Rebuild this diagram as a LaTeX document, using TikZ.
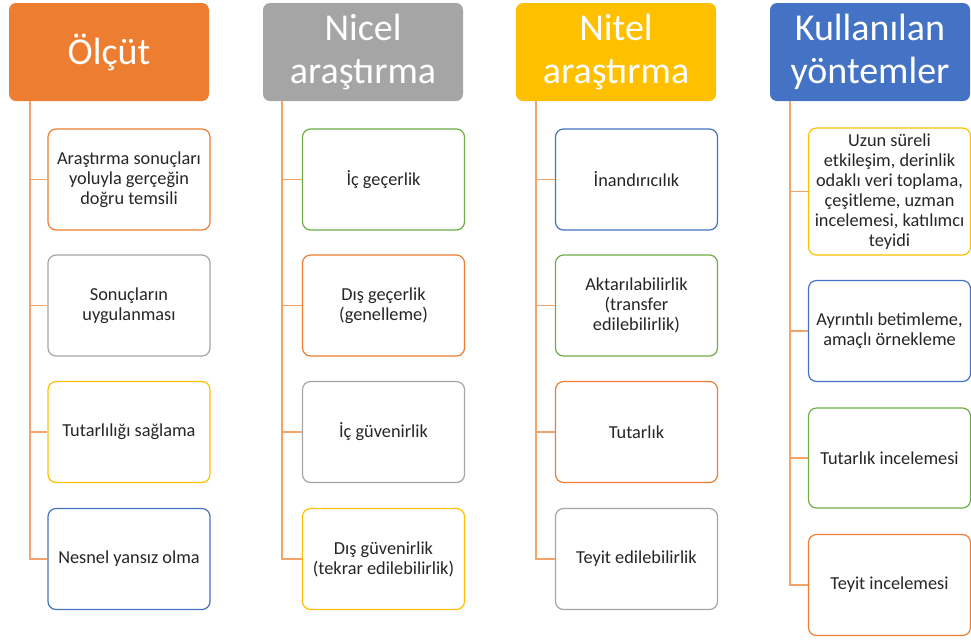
\documentclass[tikz,border=0pt]{standalone}
\usepackage{fontspec}
\setmainfont{Carlito}
\usepackage{tikz}
\usetikzlibrary{positioning}

\definecolor{turuncu}{HTML}{ED7D31}
\definecolor{gri}{HTML}{A5A5A5}
\definecolor{sari}{HTML}{FFC000}
\definecolor{mavi}{HTML}{4472C4}
\definecolor{yesil}{HTML}{70AD47}
\definecolor{hat}{HTML}{F4A46A}
\definecolor{yazi}{HTML}{262626}

\tikzset{
  baslik/.style={rounded corners=7pt, minimum width=200pt, minimum height=98pt,
    text=white, align=center, font=\fontsize{38}{43}\selectfont, inner sep=0pt},
  kutu/.style={draw=#1, line width=1.2pt, rounded corners=8pt, fill=white,
    minimum width=162pt, minimum height=101pt, align=center, text=yazi,
    font=\fontsize{18.3}{20}\selectfont, inner sep=1pt},
  link/.style={draw=hat, line width=1.6pt},
}

\begin{document}
\begin{tikzpicture}[x=1pt, y=-1pt]
  \useasboundingbox (0,0) rectangle (971,641);

  % Basliklar
  \node[baslik, fill=turuncu] (h1) at (109,52) {Ölçüt};
  \node[baslik, fill=gri] (h2) at (363,52) {Nicel\\araştırma};
  \node[baslik, fill=sari] (h3) at (616,52) {Nitel\\araştırma};
  \node[baslik, fill=mavi] (h4) at (870,52) {Kullanılan\\yöntemler};

  % Govde noktalari
  \coordinate (t1) at (30,101);
  \coordinate (t2) at (282,101);
  \coordinate (t3) at (536,101);
  \coordinate (t4) at (790,101);

  % Olcut
  \node[kutu=turuncu] (c11) at (129,179.5) {Araştırma sonuçları\\yoluyla gerçeğin\\doğru temsili};
  \node[kutu=gri] (c12) at (129,305.5) {Sonuçların\\uygulanması};
  \node[kutu=sari] (c13) at (129,432) {Tutarlılığı sağlama};
  \node[kutu=mavi] (c14) at (129,559) {Nesnel yansız olma};

  % Nicel arastirma
  \node[kutu=yesil] (c21) at (383.5,179.5) {İç geçerlik};
  \node[kutu=turuncu] (c22) at (383.5,305.5) {Dış geçerlik\\(genelleme)};
  \node[kutu=gri] (c23) at (383.5,432) {İç güvenirlik};
  \node[kutu=sari] (c24) at (383.5,559) {Dış güvenirlik\\(tekrar edilebilirlik)};

  % Nitel arastirma
  \node[kutu=mavi] (c31) at (636.5,179.5) {İnandırıcılık};
  \node[kutu=yesil] (c32) at (636.5,305.5) {Aktarılabilirlik\\(transfer\\edilebilirlik)};
  \node[kutu=turuncu] (c33) at (636.5,432) {Tutarlık};
  \node[kutu=gri] (c34) at (636.5,559) {Teyit edilebilirlik};

  % Kullanilan yontemler
  \node[kutu=sari, minimum height=127pt] (c41) at (889.5,191.5) {Uzun süreli\\etkileşim, derinlik\\odaklı veri toplama,\\çeşitleme, uzman\\incelemesi, katılımcı\\teyidi};
  \node[kutu=mavi] (c42) at (889.5,331) {Ayrıntılı betimleme,\\amaçlı örnekleme};
  \node[kutu=yesil, minimum height=100pt] (c43) at (889.5,458) {Tutarlık incelemesi};
  \node[kutu=turuncu] (c44) at (889.5,585) {Teyit incelemesi};

  % Baglantilar
  \foreach \s in {1,2,3,4}{
    \foreach \k in {1,2,3,4}{
      \draw[link] (t\s) |- (c\s\k.west);
    }
  }
\end{tikzpicture}
\end{document}
